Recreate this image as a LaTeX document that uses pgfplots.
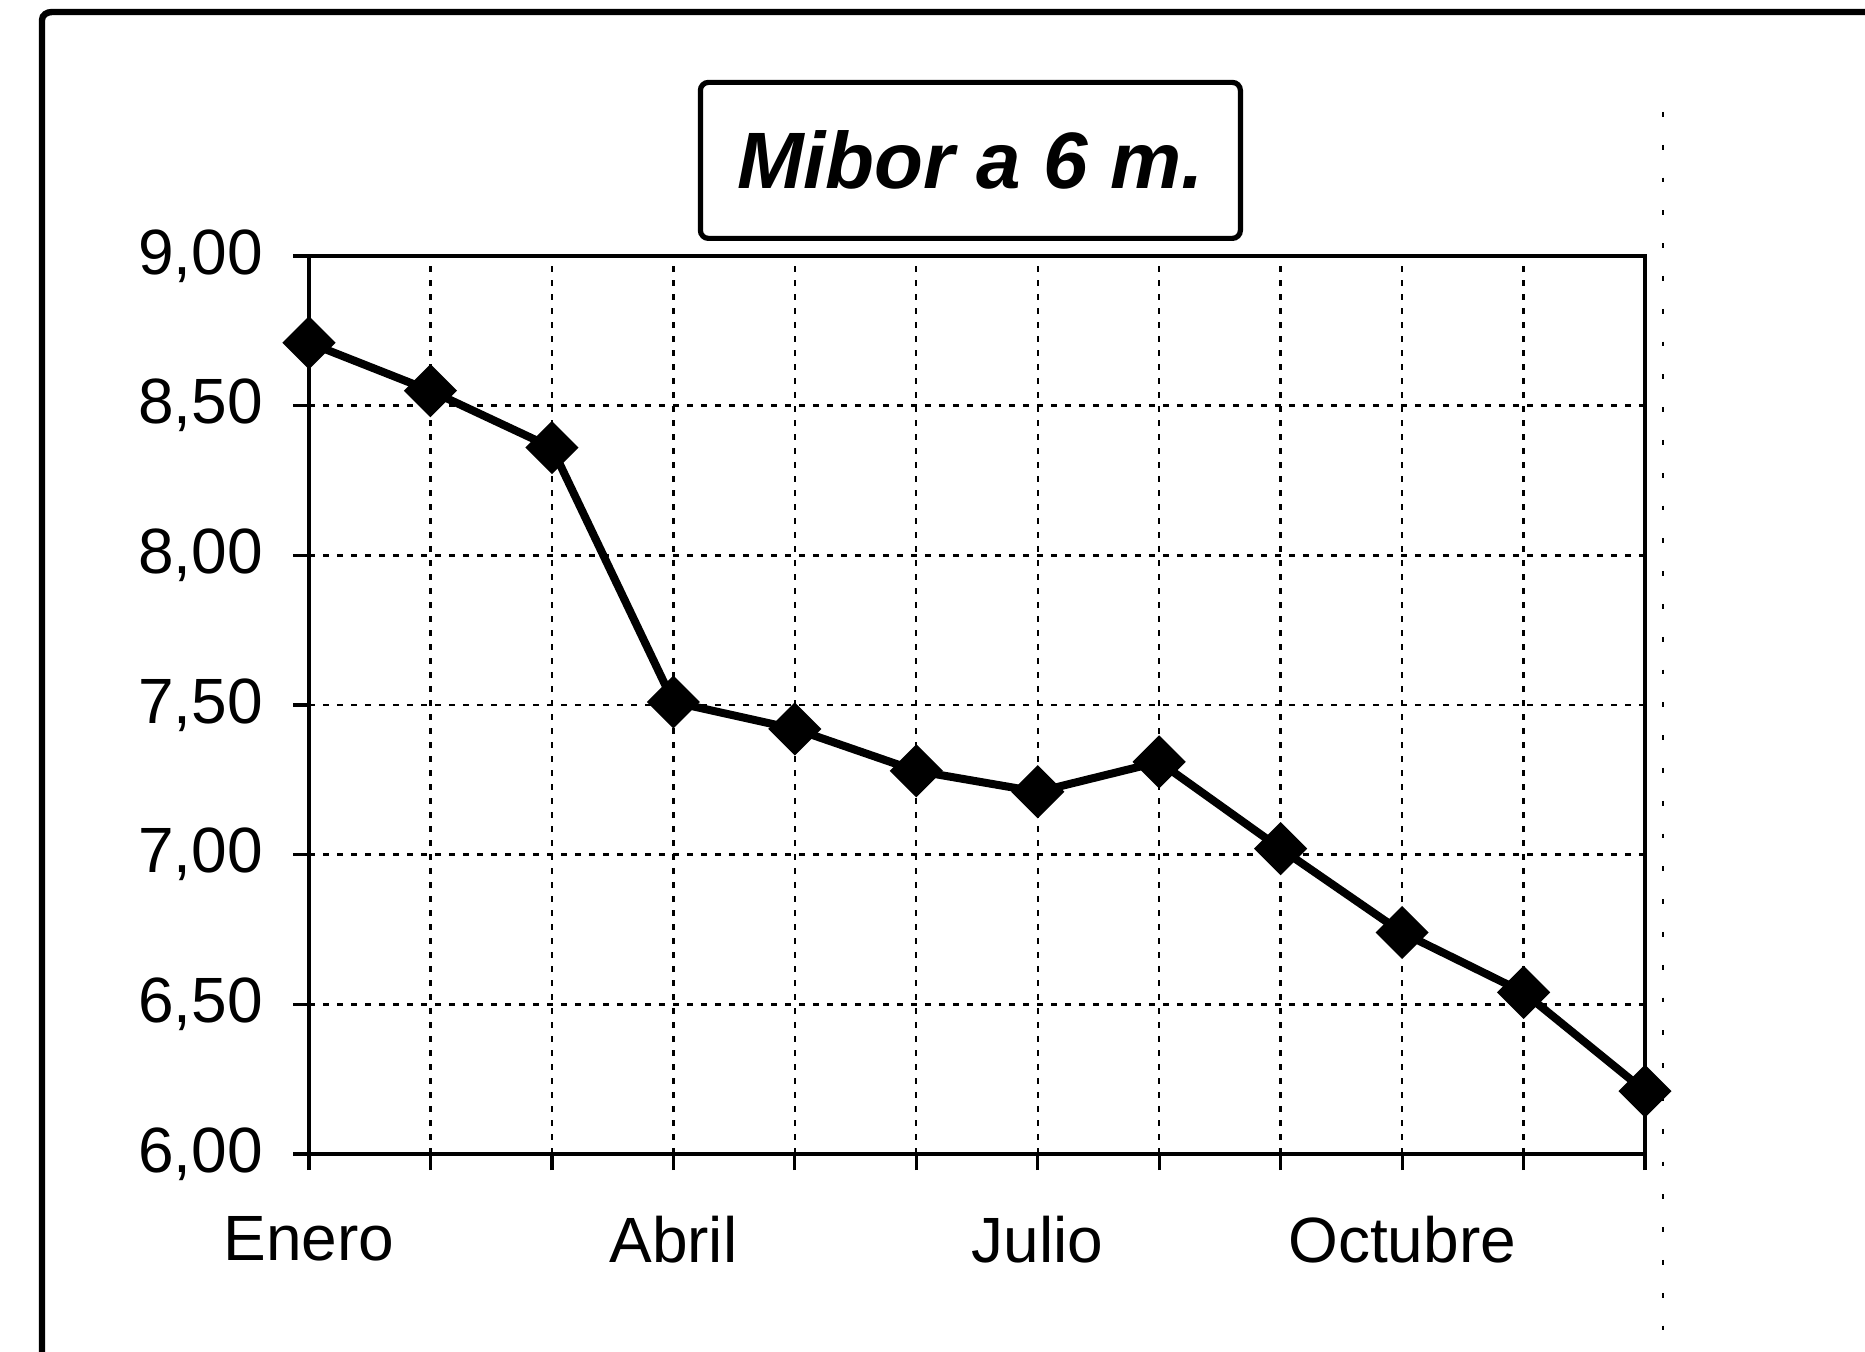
\documentclass[border=0pt]{standalone}
\usepackage{pgfplots}
\pgfplotsset{compat=1.18}
\usepackage{fontspec}
\setmainfont{Liberation Sans}
\begin{document}
\begin{tikzpicture}
\useasboundingbox (0,0) rectangle (466.25bp,338bp);
% outer frame (left and top)
\draw[line width=1.6bp] (10.5bp,0) -- (10.5bp,333bp) to[out=90,in=180] (13bp,335bp) -- (466.25bp,335bp);
% faint dotted line right of the plot
\draw[line width=0.6bp, dash pattern=on 1.2bp off 7bp] (415.75bp,310bp) -- (415.75bp,0);
% title box
\node[draw, line width=1.3bp, rounded corners=2bp, minimum width=135bp, minimum height=39bp,
      font=\fontsize{20bp}{24bp}\selectfont\bfseries\itshape] at (242.6bp,297.9bp) {Mibor a 6 m.};
\begin{axis}[
  at={(77.25bp,49.5bp)}, anchor=south west,
  scale only axis, width=334bp, height=224.5bp,
  xmin=0, xmax=11, ymin=6, ymax=9,
  xtick={0,1,2,3,4,5,6,7,8,9,10,11},
  xticklabels={Enero,,,Abril,,,Julio,,,Octubre,,},
  ytick={6,6.5,7,7.5,8,8.5,9},
  /pgf/number format/.cd, fixed, fixed zerofill, precision=2, use comma, assume math mode=true,
  /pgfplots/.cd,
  tick pos=left, tick align=outside,
  major tick length=4bp,
  tick style={black, line width=0.8bp},
  axis line style={line width=1.2bp},
  grid=major,
  major grid style={black, line width=0.6bp, dash pattern=on 1.5bp off 2bp},
  ticklabel style={font=\fontsize{16bp}{19bp}\selectfont},
  xticklabel style={yshift=-8bp},
  yticklabel style={xshift=-4bp},
]
\addplot[black, line width=2bp, mark=square*, mark size=3.7bp,
  mark options={rotate=45, solid}] coordinates {
  (0,8.71) (1,8.55) (2,8.36) (3,7.51) (4,7.42) (5,7.28)
  (6,7.21) (7,7.31) (8,7.02) (9,6.74) (10,6.54) (11,6.21)
};
\end{axis}
\end{tikzpicture}
\end{document}
